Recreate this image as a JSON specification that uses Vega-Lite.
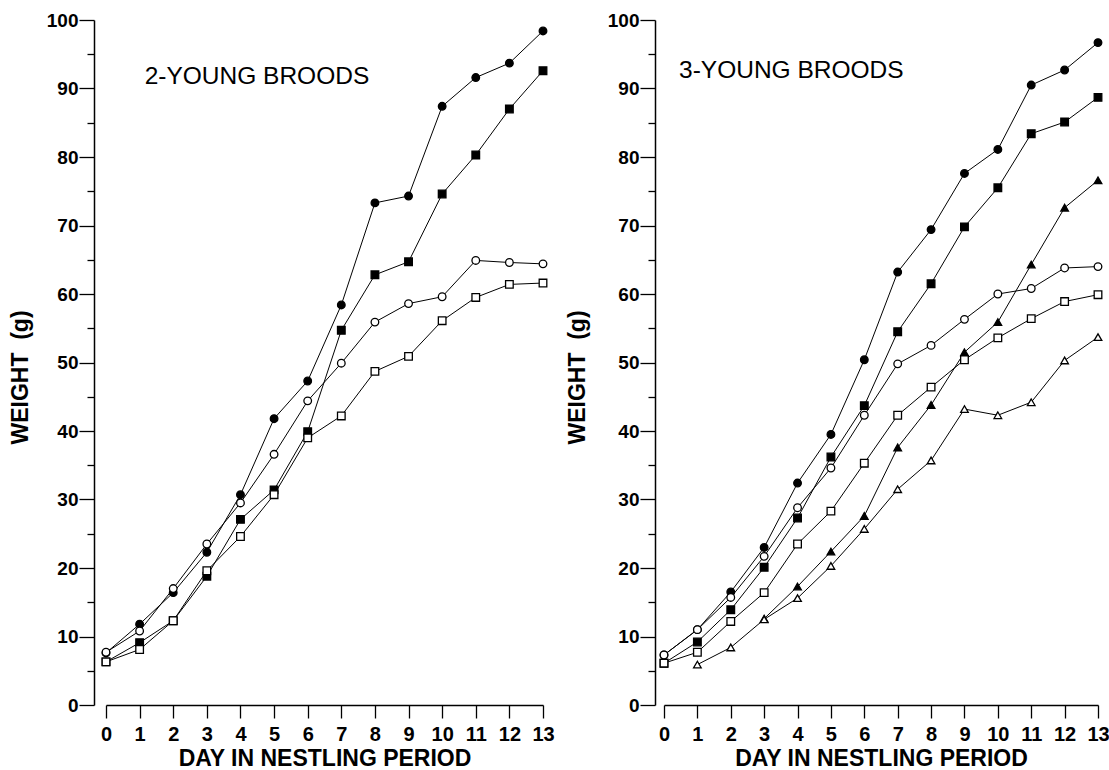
{
  "$schema": "https://vega.github.io/schema/vega-lite/v6.json",
  "background": "white",
  "padding": {"left": 9, "top": 11, "right": 5, "bottom": 0},
  "spacing": 11,
  "config": {
    "view": {"stroke": null},
    "font": "Liberation Sans",
    "axis": {"domainColor": "black", "tickColor": "black", "labelColor": "black", "titleColor": "black", "grid": false, "domainWidth": 1.5, "tickWidth": 1.3, "labelFontWeight": "bold"},
    "axisX": {"values": [0,1,2,3,4,5,6,7,8,9,10,11,12,13], "tickSize": 13, "labelFontSize": 20, "labelPadding": 6, "labelFlush": false, "labelOverlap": false, "titleFontSize": 23, "titleFontWeight": "bold", "titlePadding": 3}
  },
  "datasets": {
    "weights": [
      {"brood": 2, "series": "filled circle", "day": 0, "weight": 7.6},
      {"brood": 2, "series": "filled circle", "day": 1, "weight": 11.8},
      {"brood": 2, "series": "filled circle", "day": 2, "weight": 16.4},
      {"brood": 2, "series": "filled circle", "day": 3, "weight": 22.3},
      {"brood": 2, "series": "filled circle", "day": 4, "weight": 30.7},
      {"brood": 2, "series": "filled circle", "day": 5, "weight": 41.8},
      {"brood": 2, "series": "filled circle", "day": 6, "weight": 47.3},
      {"brood": 2, "series": "filled circle", "day": 7, "weight": 58.4},
      {"brood": 2, "series": "filled circle", "day": 8, "weight": 73.3},
      {"brood": 2, "series": "filled circle", "day": 9, "weight": 74.3},
      {"brood": 2, "series": "filled circle", "day": 10, "weight": 87.4},
      {"brood": 2, "series": "filled circle", "day": 11, "weight": 91.6},
      {"brood": 2, "series": "filled circle", "day": 12, "weight": 93.7},
      {"brood": 2, "series": "filled circle", "day": 13, "weight": 98.4},
      {"brood": 2, "series": "filled square", "day": 0, "weight": 6.3},
      {"brood": 2, "series": "filled square", "day": 1, "weight": 9.1},
      {"brood": 2, "series": "filled square", "day": 2, "weight": 12.3},
      {"brood": 2, "series": "filled square", "day": 3, "weight": 18.8},
      {"brood": 2, "series": "filled square", "day": 4, "weight": 27.1},
      {"brood": 2, "series": "filled square", "day": 5, "weight": 31.4},
      {"brood": 2, "series": "filled square", "day": 6, "weight": 39.9},
      {"brood": 2, "series": "filled square", "day": 7, "weight": 54.7},
      {"brood": 2, "series": "filled square", "day": 8, "weight": 62.8},
      {"brood": 2, "series": "filled square", "day": 9, "weight": 64.7},
      {"brood": 2, "series": "filled square", "day": 10, "weight": 74.6},
      {"brood": 2, "series": "filled square", "day": 11, "weight": 80.3},
      {"brood": 2, "series": "filled square", "day": 12, "weight": 87.0},
      {"brood": 2, "series": "filled square", "day": 13, "weight": 92.6},
      {"brood": 2, "series": "open circle", "day": 0, "weight": 7.7},
      {"brood": 2, "series": "open circle", "day": 1, "weight": 10.8},
      {"brood": 2, "series": "open circle", "day": 2, "weight": 17.0},
      {"brood": 2, "series": "open circle", "day": 3, "weight": 23.5},
      {"brood": 2, "series": "open circle", "day": 4, "weight": 29.5},
      {"brood": 2, "series": "open circle", "day": 5, "weight": 36.6},
      {"brood": 2, "series": "open circle", "day": 6, "weight": 44.4},
      {"brood": 2, "series": "open circle", "day": 7, "weight": 49.9},
      {"brood": 2, "series": "open circle", "day": 8, "weight": 55.9},
      {"brood": 2, "series": "open circle", "day": 9, "weight": 58.6},
      {"brood": 2, "series": "open circle", "day": 10, "weight": 59.6},
      {"brood": 2, "series": "open circle", "day": 11, "weight": 64.9},
      {"brood": 2, "series": "open circle", "day": 12, "weight": 64.6},
      {"brood": 2, "series": "open circle", "day": 13, "weight": 64.4},
      {"brood": 2, "series": "open square", "day": 0, "weight": 6.3},
      {"brood": 2, "series": "open square", "day": 1, "weight": 8.1},
      {"brood": 2, "series": "open square", "day": 2, "weight": 12.3},
      {"brood": 2, "series": "open square", "day": 3, "weight": 19.6},
      {"brood": 2, "series": "open square", "day": 4, "weight": 24.6},
      {"brood": 2, "series": "open square", "day": 5, "weight": 30.7},
      {"brood": 2, "series": "open square", "day": 6, "weight": 39.0},
      {"brood": 2, "series": "open square", "day": 7, "weight": 42.2},
      {"brood": 2, "series": "open square", "day": 8, "weight": 48.7},
      {"brood": 2, "series": "open square", "day": 9, "weight": 50.9},
      {"brood": 2, "series": "open square", "day": 10, "weight": 56.1},
      {"brood": 2, "series": "open square", "day": 11, "weight": 59.5},
      {"brood": 2, "series": "open square", "day": 12, "weight": 61.4},
      {"brood": 2, "series": "open square", "day": 13, "weight": 61.6},
      {"brood": 3, "series": "filled circle", "day": 0, "weight": 7.3},
      {"brood": 3, "series": "filled circle", "day": 1, "weight": 11.0},
      {"brood": 3, "series": "filled circle", "day": 2, "weight": 16.5},
      {"brood": 3, "series": "filled circle", "day": 3, "weight": 23.0},
      {"brood": 3, "series": "filled circle", "day": 4, "weight": 32.4},
      {"brood": 3, "series": "filled circle", "day": 5, "weight": 39.5},
      {"brood": 3, "series": "filled circle", "day": 6, "weight": 50.4},
      {"brood": 3, "series": "filled circle", "day": 7, "weight": 63.2},
      {"brood": 3, "series": "filled circle", "day": 8, "weight": 69.4},
      {"brood": 3, "series": "filled circle", "day": 9, "weight": 77.6},
      {"brood": 3, "series": "filled circle", "day": 10, "weight": 81.1},
      {"brood": 3, "series": "filled circle", "day": 11, "weight": 90.5},
      {"brood": 3, "series": "filled circle", "day": 12, "weight": 92.7},
      {"brood": 3, "series": "filled circle", "day": 13, "weight": 96.7},
      {"brood": 3, "series": "filled square", "day": 0, "weight": 6.1},
      {"brood": 3, "series": "filled square", "day": 1, "weight": 9.2},
      {"brood": 3, "series": "filled square", "day": 2, "weight": 13.9},
      {"brood": 3, "series": "filled square", "day": 3, "weight": 20.1},
      {"brood": 3, "series": "filled square", "day": 4, "weight": 27.3},
      {"brood": 3, "series": "filled square", "day": 5, "weight": 36.2},
      {"brood": 3, "series": "filled square", "day": 6, "weight": 43.7},
      {"brood": 3, "series": "filled square", "day": 7, "weight": 54.5},
      {"brood": 3, "series": "filled square", "day": 8, "weight": 61.5},
      {"brood": 3, "series": "filled square", "day": 9, "weight": 69.8},
      {"brood": 3, "series": "filled square", "day": 10, "weight": 75.5},
      {"brood": 3, "series": "filled square", "day": 11, "weight": 83.4},
      {"brood": 3, "series": "filled square", "day": 12, "weight": 85.1},
      {"brood": 3, "series": "filled square", "day": 13, "weight": 88.7},
      {"brood": 3, "series": "filled triangle", "day": 3, "weight": 12.6},
      {"brood": 3, "series": "filled triangle", "day": 4, "weight": 17.3},
      {"brood": 3, "series": "filled triangle", "day": 5, "weight": 22.4},
      {"brood": 3, "series": "filled triangle", "day": 6, "weight": 27.6},
      {"brood": 3, "series": "filled triangle", "day": 7, "weight": 37.6},
      {"brood": 3, "series": "filled triangle", "day": 8, "weight": 43.8},
      {"brood": 3, "series": "filled triangle", "day": 9, "weight": 51.5},
      {"brood": 3, "series": "filled triangle", "day": 10, "weight": 55.9},
      {"brood": 3, "series": "filled triangle", "day": 11, "weight": 64.3},
      {"brood": 3, "series": "filled triangle", "day": 12, "weight": 72.6},
      {"brood": 3, "series": "filled triangle", "day": 13, "weight": 76.6},
      {"brood": 3, "series": "open circle", "day": 0, "weight": 7.3},
      {"brood": 3, "series": "open circle", "day": 1, "weight": 11.0},
      {"brood": 3, "series": "open circle", "day": 2, "weight": 15.7},
      {"brood": 3, "series": "open circle", "day": 3, "weight": 21.7},
      {"brood": 3, "series": "open circle", "day": 4, "weight": 28.8},
      {"brood": 3, "series": "open circle", "day": 5, "weight": 34.6},
      {"brood": 3, "series": "open circle", "day": 6, "weight": 42.3},
      {"brood": 3, "series": "open circle", "day": 7, "weight": 49.8},
      {"brood": 3, "series": "open circle", "day": 8, "weight": 52.5},
      {"brood": 3, "series": "open circle", "day": 9, "weight": 56.3},
      {"brood": 3, "series": "open circle", "day": 10, "weight": 60.0},
      {"brood": 3, "series": "open circle", "day": 11, "weight": 60.8},
      {"brood": 3, "series": "open circle", "day": 12, "weight": 63.8},
      {"brood": 3, "series": "open circle", "day": 13, "weight": 64.0},
      {"brood": 3, "series": "open square", "day": 0, "weight": 6.1},
      {"brood": 3, "series": "open square", "day": 1, "weight": 7.7},
      {"brood": 3, "series": "open square", "day": 2, "weight": 12.2},
      {"brood": 3, "series": "open square", "day": 3, "weight": 16.4},
      {"brood": 3, "series": "open square", "day": 4, "weight": 23.5},
      {"brood": 3, "series": "open square", "day": 5, "weight": 28.3},
      {"brood": 3, "series": "open square", "day": 6, "weight": 35.3},
      {"brood": 3, "series": "open square", "day": 7, "weight": 42.3},
      {"brood": 3, "series": "open square", "day": 8, "weight": 46.4},
      {"brood": 3, "series": "open square", "day": 9, "weight": 50.4},
      {"brood": 3, "series": "open square", "day": 10, "weight": 53.6},
      {"brood": 3, "series": "open square", "day": 11, "weight": 56.4},
      {"brood": 3, "series": "open square", "day": 12, "weight": 58.9},
      {"brood": 3, "series": "open square", "day": 13, "weight": 59.9},
      {"brood": 3, "series": "open triangle", "day": 1, "weight": 5.9},
      {"brood": 3, "series": "open triangle", "day": 2, "weight": 8.4},
      {"brood": 3, "series": "open triangle", "day": 3, "weight": 12.5},
      {"brood": 3, "series": "open triangle", "day": 4, "weight": 15.6},
      {"brood": 3, "series": "open triangle", "day": 5, "weight": 20.3},
      {"brood": 3, "series": "open triangle", "day": 6, "weight": 25.7},
      {"brood": 3, "series": "open triangle", "day": 7, "weight": 31.5},
      {"brood": 3, "series": "open triangle", "day": 8, "weight": 35.7},
      {"brood": 3, "series": "open triangle", "day": 9, "weight": 43.2},
      {"brood": 3, "series": "open triangle", "day": 10, "weight": 42.3},
      {"brood": 3, "series": "open triangle", "day": 11, "weight": 44.2},
      {"brood": 3, "series": "open triangle", "day": 12, "weight": 50.3},
      {"brood": 3, "series": "open triangle", "day": 13, "weight": 53.7}
    ],
    "labels": [
      {"brood": 2, "text": "2-YOUNG BROODS", "day": 1.15, "weight": 91.7},
      {"brood": 3, "text": "3-YOUNG BROODS", "day": 0.45, "weight": 92.6}
    ]
  },
  "hconcat": [
    {
      "width": 437,
      "height": 685,
      "layer": [
        {
          "data": {"name": "weights"},
          "transform": [{"filter": "datum.brood == 2"}],
          "mark": {"type": "line", "color": "black", "strokeWidth": 1},
          "encoding": {
            "x": {"field": "day", "type": "quantitative", "scale": {"domain": [0, 13], "nice": false, "zero": false},
              "axis": {"title": "DAY IN NESTLING PERIOD"}},
            "y": {"field": "weight", "type": "quantitative", "scale": {"domain": [0, 100], "nice": false},
              "axis": {"orient": "left", "offset": 12, "values": [0,10,20,30,40,50,60,70,80,90,100], "tickSize": 15, "labelFontSize": 19, "labelPadding": 1, "title": "WEIGHT\u00a0\u00a0(g)", "titleFontSize": 23, "titleFontWeight": "bold", "titlePadding": 14, "titleY": 357}},
            "detail": {"field": "series"},
            "order": {"field": "day", "type": "quantitative"}
          }
        },
        {
          "data": {"name": "weights"},
          "transform": [{"filter": "datum.brood == 2"}],
          "mark": {"type": "point", "size": 58, "stroke": "black", "strokeWidth": 1.3, "opacity": 1, "filled": false},
          "encoding": {
            "x": {"field": "day", "type": "quantitative", "scale": {"domain": [0, 13], "nice": false, "zero": false},
              "axis": {"title": "DAY IN NESTLING PERIOD"}},
            "y": {"field": "weight", "type": "quantitative", "scale": {"domain": [0, 100], "nice": false},
              "axis": {"orient": "left", "offset": 12, "values": [5,15,25,35,45,55,65,75,85,95], "tickSize": 7, "labels": false, "domain": false, "title": null}},
            "shape": {"field": "series", "type": "nominal", "legend": null,
              "scale": {"domain": ["filled circle", "filled square", "filled triangle", "open circle", "open square", "open triangle"], "range": ["circle", "square", "triangle-up", "circle", "square", "triangle-up"]}},
            "fill": {"field": "series", "type": "nominal", "legend": null,
              "scale": {"domain": ["filled circle", "filled square", "filled triangle", "open circle", "open square", "open triangle"], "range": ["black", "black", "black", "white", "white", "white"]}}
          }
        },
        {
          "data": {"name": "labels"},
          "transform": [{"filter": "datum.brood == 2"}],
          "mark": {"type": "text", "align": "left", "baseline": "middle", "fontSize": 24.5, "color": "black"},
          "encoding": {
            "x": {"field": "day", "type": "quantitative", "scale": {"domain": [0, 13], "nice": false, "zero": false},
              "axis": {"title": "DAY IN NESTLING PERIOD"}},
            "y": {"field": "weight", "type": "quantitative", "scale": {"domain": [0, 100], "nice": false}, "axis": null},
            "text": {"field": "text"}
          }
        }
      ],
      "resolve": {"axis": {"y": "independent"}}
    },
    {
      "width": 434,
      "height": 685,
      "layer": [
        {
          "data": {"name": "weights"},
          "transform": [{"filter": "datum.brood == 3"}],
          "mark": {"type": "line", "color": "black", "strokeWidth": 1},
          "encoding": {
            "x": {"field": "day", "type": "quantitative", "scale": {"domain": [0, 13], "nice": false, "zero": false},
              "axis": {"title": "DAY IN NESTLING PERIOD"}},
            "y": {"field": "weight", "type": "quantitative", "scale": {"domain": [0, 100], "nice": false},
              "axis": {"orient": "left", "offset": 9, "values": [0,10,20,30,40,50,60,70,80,90,100], "tickSize": 15, "labelFontSize": 19, "labelPadding": 1, "title": "WEIGHT\u00a0\u00a0(g)", "titleFontSize": 23, "titleFontWeight": "bold", "titlePadding": 18, "titleY": 357}},
            "detail": {"field": "series"},
            "order": {"field": "day", "type": "quantitative"}
          }
        },
        {
          "data": {"name": "weights"},
          "transform": [{"filter": "datum.brood == 3"}],
          "mark": {"type": "point", "size": 58, "stroke": "black", "strokeWidth": 1.3, "opacity": 1, "filled": false},
          "encoding": {
            "x": {"field": "day", "type": "quantitative", "scale": {"domain": [0, 13], "nice": false, "zero": false},
              "axis": {"title": "DAY IN NESTLING PERIOD"}},
            "y": {"field": "weight", "type": "quantitative", "scale": {"domain": [0, 100], "nice": false},
              "axis": {"orient": "left", "offset": 9, "values": [5,15,25,35,45,55,65,75,85,95], "tickSize": 7, "labels": false, "domain": false, "title": null}},
            "shape": {"field": "series", "type": "nominal", "legend": null,
              "scale": {"domain": ["filled circle", "filled square", "filled triangle", "open circle", "open square", "open triangle"], "range": ["circle", "square", "triangle-up", "circle", "square", "triangle-up"]}},
            "fill": {"field": "series", "type": "nominal", "legend": null,
              "scale": {"domain": ["filled circle", "filled square", "filled triangle", "open circle", "open square", "open triangle"], "range": ["black", "black", "black", "white", "white", "white"]}}
          }
        },
        {
          "data": {"name": "labels"},
          "transform": [{"filter": "datum.brood == 3"}],
          "mark": {"type": "text", "align": "left", "baseline": "middle", "fontSize": 24.5, "color": "black"},
          "encoding": {
            "x": {"field": "day", "type": "quantitative", "scale": {"domain": [0, 13], "nice": false, "zero": false},
              "axis": {"title": "DAY IN NESTLING PERIOD"}},
            "y": {"field": "weight", "type": "quantitative", "scale": {"domain": [0, 100], "nice": false}, "axis": null},
            "text": {"field": "text"}
          }
        }
      ],
      "resolve": {"axis": {"y": "independent"}}
    }
  ]
}
